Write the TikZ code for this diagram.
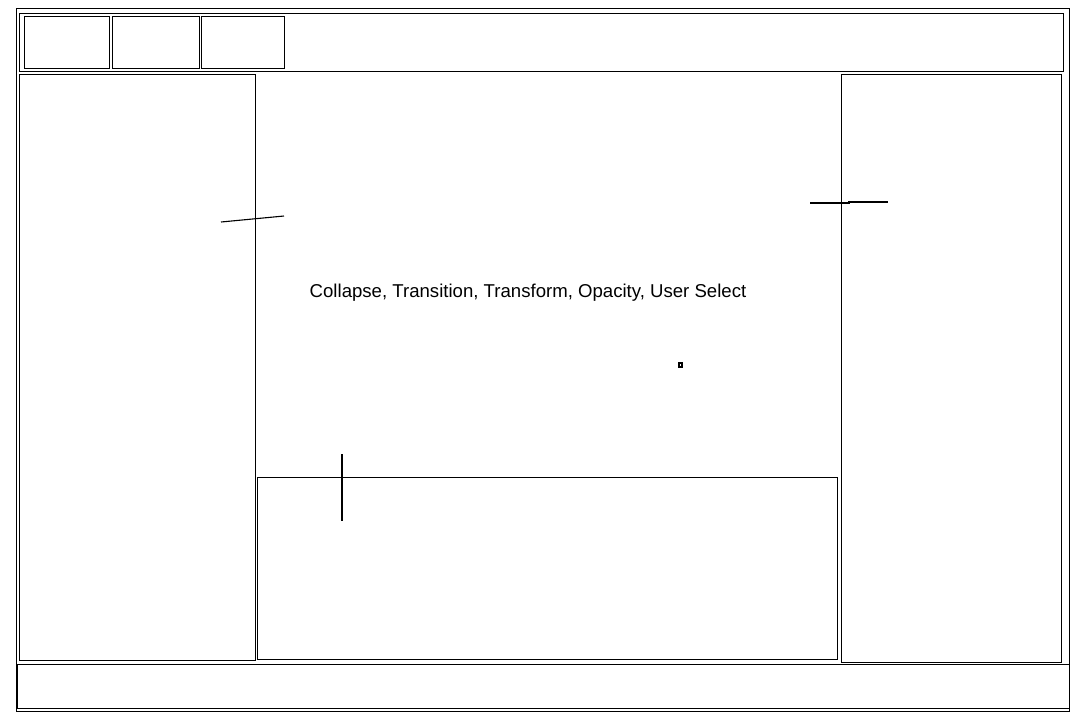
\documentclass[tikz,border=0pt]{standalone}
\usepackage{fontspec}
\setmainfont{Liberation Sans}
\usetikzlibrary{positioning}
\tikzset{
  every picture/.style={line width=0.5pt},
  pane/.style={draw=black},
  stroke/.style={draw=black, line width=0.55pt},
  paneltext/.style={font=\fontsize{9.3}{11}\selectfont, inner sep=0pt, anchor=base},
}

\begin{document}
\begin{tikzpicture}[x=0.5pt, y=-0.5pt]
  \useasboundingbox (0,0) rectangle (1080,720);
  % outer frame
  \draw[pane] (16,8) rectangle (1069,711);
  % header and its tabs
  \draw[pane] (19,13) rectangle (1063,71);
  \foreach \xa/\xb in {24/109, 112/199, 201/284}
    \draw[pane] (\xa,16) rectangle (\xb,68);
  % side panels
  \draw[pane] (19,74) rectangle (255,660);
  \draw[pane] (841,74) rectangle (1061,662);
  % bottom panel
  \draw[pane] (257,477) rectangle (837,659);
  % footer
  \draw[pane] (17,664) rectangle (1069,708);
  % loose strokes
  \draw[stroke] (221,222) -- (284,216);
  \draw[stroke] (810,203) -- (849,203) -- (849,202) -- (888,202);
  \draw[stroke] (342,454) -- (342,521);
  \draw[stroke] (679,363) rectangle (682,367);
  \node[paneltext] (features) at (528,297) {Collapse, Transition, Transform, Opacity, User Select};
\end{tikzpicture}
\end{document}
